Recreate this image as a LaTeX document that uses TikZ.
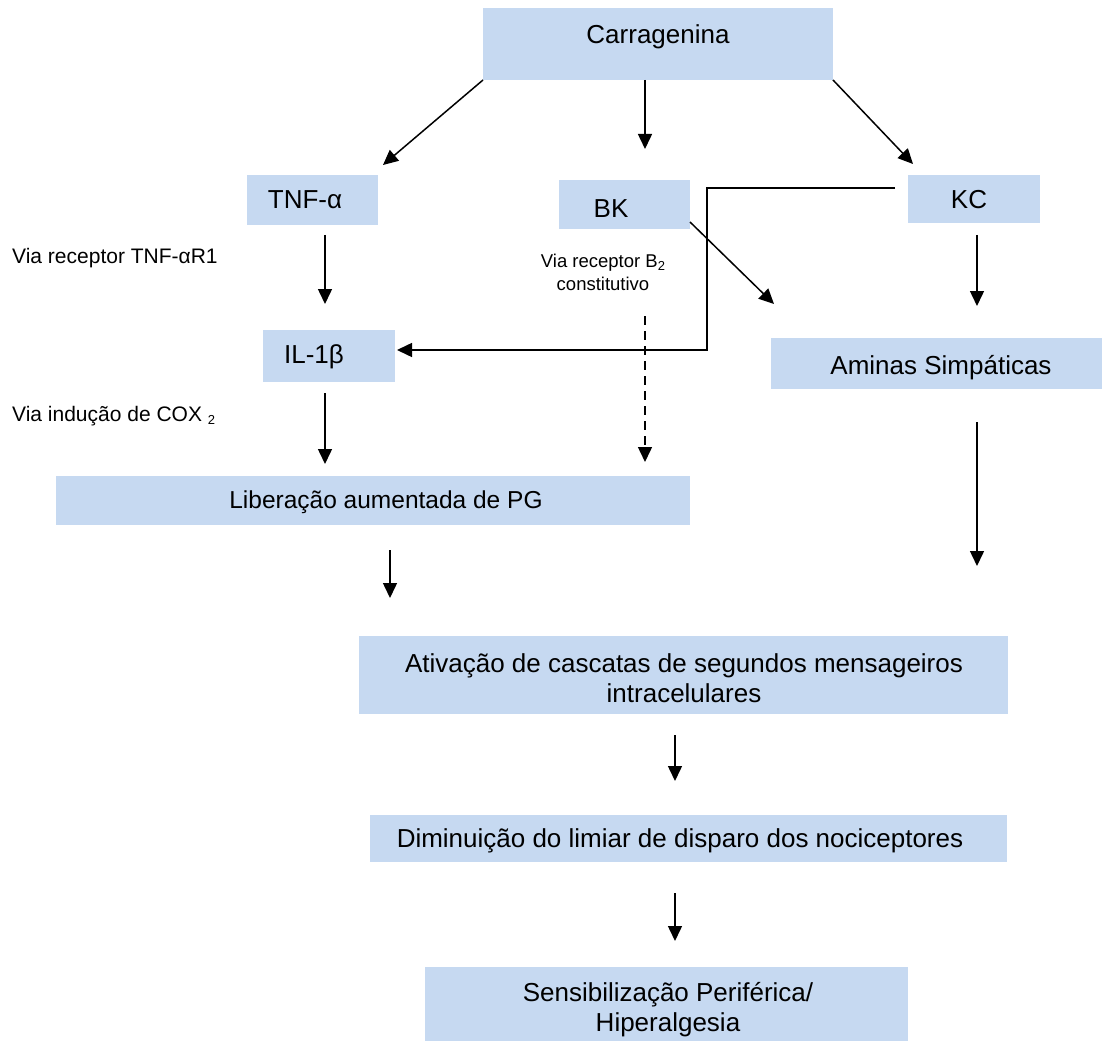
\documentclass[tikz,border=0pt]{standalone}
\usepackage{fontspec}
\setmainfont{Liberation Sans}
\usetikzlibrary{arrows.meta}
\definecolor{boxblue}{HTML}{C6D9F1}
\tikzset{
  bx/.style={fill=boxblue, draw=none, inner sep=0pt},
  txt/.style={font=\fontsize{26}{30}\selectfont, inner sep=0pt, align=center},
  lbl/.style={font=\fontsize{21}{25}\selectfont, inner sep=0pt},
  arr/.style={-{Triangle[length=15pt,width=14pt]}, line width=1.5pt},
}
\begin{document}
\begin{tikzpicture}[x=1pt,y=-1pt]
\useasboundingbox (0,0) rectangle (1103,1043);
% boxes
\node[bx, minimum width=350, minimum height=72] (car) at (658,44) {};
\node[bx, minimum width=131, minimum height=50] (tnf) at (312.5,200) {};
\node[bx, minimum width=131, minimum height=49] (bk) at (624.5,204.5) {};
\node[bx, minimum width=132, minimum height=48] (kc) at (974,199) {};
\node[bx, minimum width=132, minimum height=52] (il) at (329,356) {};
\node[bx, minimum width=331, minimum height=51] (am) at (936.5,363.5) {};
\node[bx, minimum width=634, minimum height=49] (pg) at (373,500.5) {};
\node[bx, minimum width=649, minimum height=78] (at) at (683.5,675) {};
\node[bx, minimum width=637, minimum height=47] (di) at (688.5,838.5) {};
\node[bx, minimum width=483, minimum height=74] (se) at (666.5,1004) {};
% box texts
\node[txt] (tcar) at (658,37) {Carragenina};
\node[txt] (ttnf) at (305,200) {TNF-α};
\node[txt] (tbk) at (611,209) {BK};
\node[txt] (tkc) at (969,200) {KC};
\node[txt] (til) at (314,357) {IL-1β};
\node[txt] (tam) at (941,368) {Aminas Simpáticas};
\node[txt, font=\fontsize{24.5}{28}\selectfont] (tpg) at (386,502) {Liberação aumentada de PG};
\node[txt] (tat) at (684,678) {Ativação de cascatas de segundos mensageiros\\intracelulares};
\node[txt] (tdi) at (680,841) {Diminuição do limiar de disparo dos nociceptores};
\node[txt] (tse) at (668,1010) {Sensibilização Periférica/\\Hiperalgesia};
% labels
\node[lbl, anchor=west] (l1) at (12,258) {Via receptor TNF-αR1};
\node[lbl, anchor=west] (l2) at (12,416) {Via indução de COX \raisebox{-0.3ex}{\fontsize{13}{14}\selectfont 2}};
\node[lbl, font=\fontsize{18.5}{23}\selectfont, align=center] (l3) at (603,272) {Via receptor B\raisebox{-0.3ex}{\fontsize{13}{14}\selectfont 2}\\constitutivo};
% coordinates
\coordinate (c1) at (483,80);
\coordinate (c1e) at (383,165);
\coordinate (c2) at (645,80);
\coordinate (c2e) at (645,149);
\coordinate (c3) at (833,80);
\coordinate (c3e) at (913,164);
\coordinate (t1) at (325,235);
\coordinate (t1e) at (325,304);
\coordinate (i1) at (325,393);
\coordinate (i1e) at (325,464);
\coordinate (b1) at (645,316);
\coordinate (b1e) at (645,462);
\coordinate (b2) at (690,222);
\coordinate (b2e) at (774,304);
\coordinate (k0) at (895,188);
\coordinate (k1) at (707,188);
\coordinate (k2) at (707,350);
\coordinate (k3) at (397,350);
\coordinate (k4) at (977,235);
\coordinate (k4e) at (977,306);
\coordinate (a1) at (977,422);
\coordinate (a1e) at (977,566);
\coordinate (p1) at (390,550);
\coordinate (p1e) at (390,598);
\coordinate (v1) at (675,735);
\coordinate (v1e) at (675,781);
\coordinate (d1) at (675,893);
\coordinate (d1e) at (675,941);
% arrows
\draw[arr] (c1) -- (c1e);
\draw[arr] (c2) -- (c2e);
\draw[arr] (c3) -- (c3e);
\draw[arr] (t1) -- (t1e);
\draw[arr] (i1) -- (i1e);
\draw[arr, dash pattern=on 9pt off 6pt] (b1) -- (b1e);
\draw[arr] (b2) -- (b2e);
\draw[arr] (k0) -- (k1) -- (k2) -- (k3);
\draw[arr] (k4) -- (k4e);
\draw[arr] (a1) -- (a1e);
\draw[arr] (p1) -- (p1e);
\draw[arr] (v1) -- (v1e);
\draw[arr] (d1) -- (d1e);
\end{tikzpicture}
\end{document}
